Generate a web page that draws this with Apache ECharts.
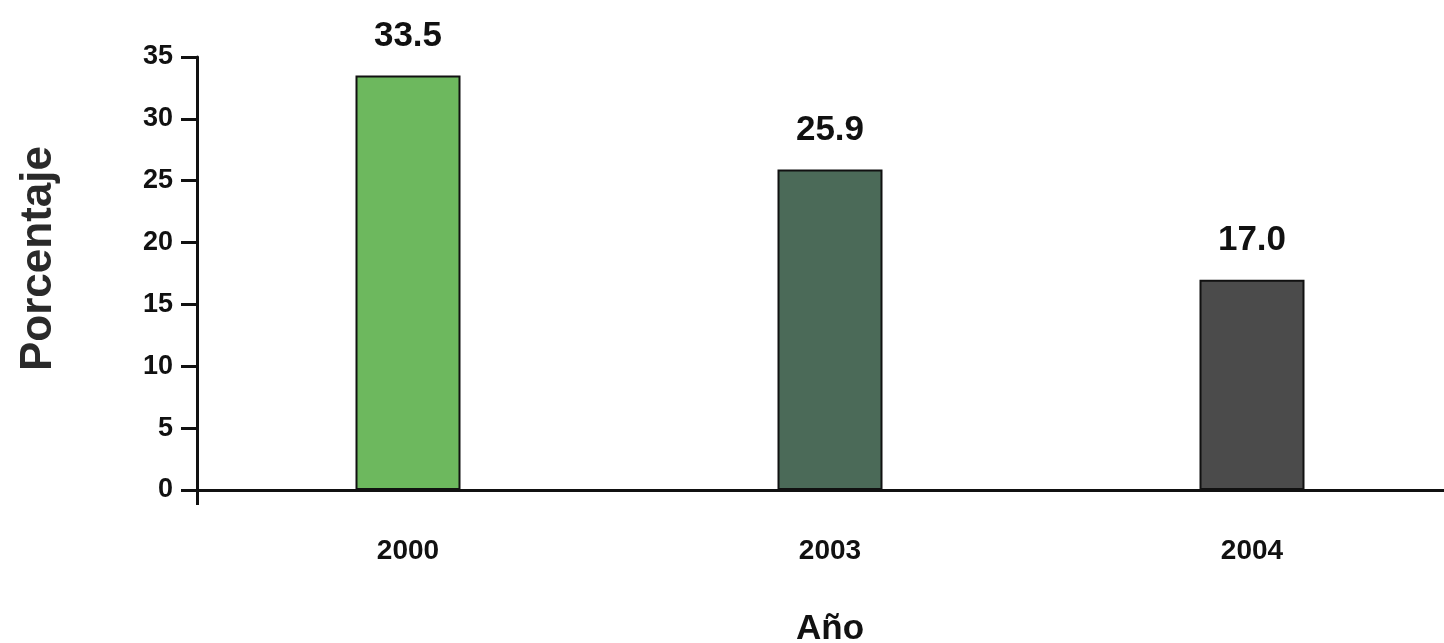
<!DOCTYPE html>
<html>
<head>
<meta charset="utf-8">
<script src="https://cdn.jsdelivr.net/npm/echarts@6/dist/echarts.min.js"></script>
<style>
  html, body { margin: 0; padding: 0; background: #ffffff; }
  #chart { width: 1444px; height: 643px; }
</style>
</head>
<body>
<div id="chart"></div>
<script>
// Survey years and percentage per year
const years = ['2000', '2003', '2004'];
const values = [33.5, 25.9, 17.0];
const barColors = ['#6db85e', '#4b6a58', '#4b4b4b'];
const yTicks = [0, 5, 10, 15, 20, 25, 30, 35];

const FONT = '"Liberation Sans", Arial, sans-serif';

const chart = echarts.init(document.getElementById('chart'));
chart.setOption({
  backgroundColor: '#ffffff',
  animation: false,
  grid: { left: 197, top: 57, bottom: 153, width: 1266, containLabel: false, outerBoundsMode: 'none' },
  xAxis: {
    type: 'category',
    data: years,
    name: 'Año',
    nameLocation: 'middle',
    nameGap: 122,
    nameTextStyle: { fontFamily: FONT, fontWeight: 'bold', fontSize: 35, color: '#111' },
    axisLine: { lineStyle: { color: '#111', width: 3 } },
    // only the tick at the origin, continuing the value axis below zero
    axisTick: { show: true, length: 15, interval: (idx) => idx === 0, lineStyle: { color: '#111', width: 3 } },
    axisLabel: { fontFamily: FONT, fontWeight: 'bold', fontSize: 28, color: '#111', margin: 47 },
    boundaryGap: true
  },
  yAxis: {
    type: 'value',
    min: yTicks[0],
    max: yTicks[yTicks.length - 1],
    interval: 5,
    name: 'Porcentaje',
    nameLocation: 'middle',
    nameGap: 136,
    nameRotate: 90,
    nameTextStyle: { fontFamily: FONT, fontWeight: 'bold', fontSize: 44, color: '#2a2a2a', padding: [0, 0, 0, 30] },
    axisLine: { show: true, lineStyle: { color: '#111', width: 3 } },
    axisTick: { show: true, length: 16, lineStyle: { color: '#111', width: 3 } },
    axisLabel: { fontFamily: FONT, fontWeight: 'bold', fontSize: 27, color: '#111', margin: 24 },
    splitLine: { show: false }
  },
  series: [{
    type: 'bar',
    data: values.map((v, i) => ({ value: v, itemStyle: { color: barColors[i] } })),
    barWidth: 105,
    itemStyle: { borderColor: '#111', borderWidth: 2 },
    label: {
      show: true,
      position: 'top',
      distance: 22,
      formatter: p => p.value.toFixed(1),
      fontFamily: FONT,
      fontWeight: 'bold',
      fontSize: 35,
      color: '#111'
    }
  }]
});
</script>
</body>
</html>
